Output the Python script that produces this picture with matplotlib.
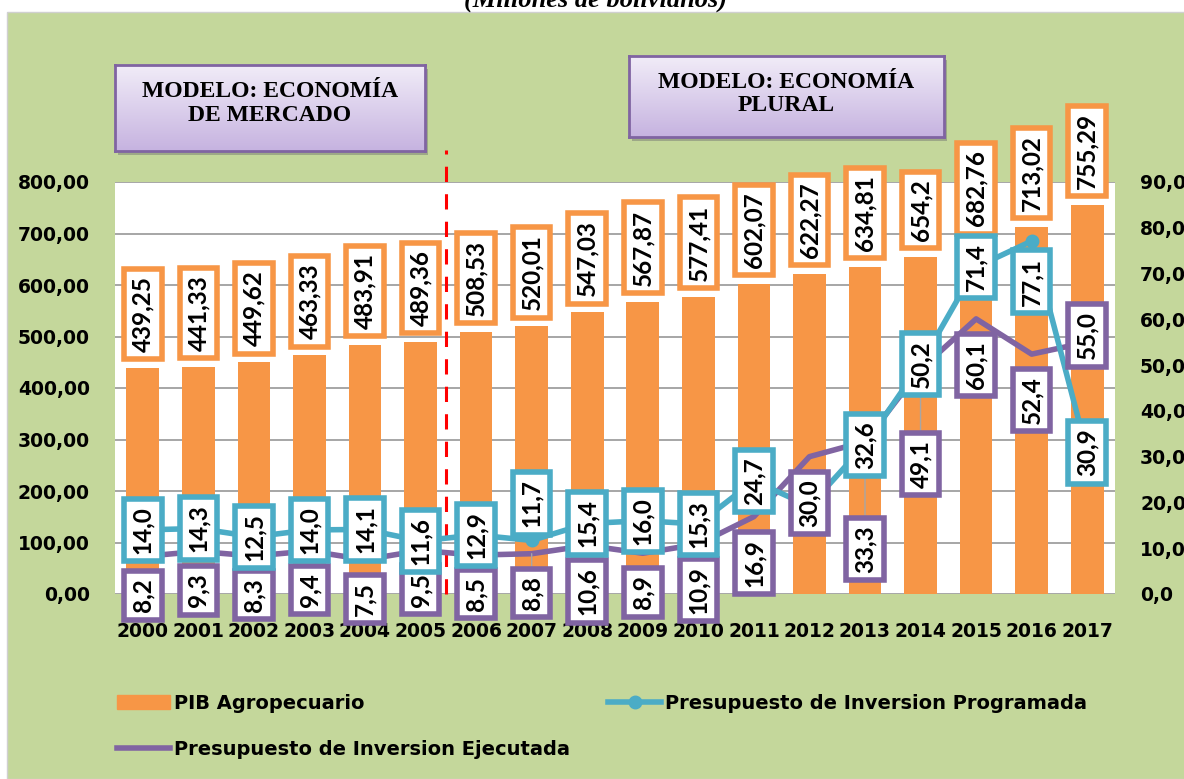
import matplotlib.pyplot as plt
import numpy as np
from matplotlib.patches import Rectangle, Patch
from matplotlib.lines import Line2D
from matplotlib.colors import LinearSegmentedColormap

plt.rcParams['font.family'] = ['DejaVu Sans']

years = [str(y) for y in range(2000, 2018)]
pib = [439.25, 441.33, 449.62, 463.33, 483.91, 489.36, 508.53, 520.01, 547.03,
       567.87, 577.41, 602.07, 622.27, 634.81, 654.2, 682.76, 713.02, 755.29]
programada = [14.0, 14.3, 12.5, 14.0, 14.1, 11.6, 12.9, 11.7, 15.4,
              16.0, 15.3, 24.7, 19.2, 32.6, 50.2, 71.4, 77.1, 30.9]
ejecutada = [8.2, 9.3, 8.3, 9.4, 7.5, 9.5, 8.5, 8.8, 10.6,
             8.9, 10.9, 16.9, 30.0, 33.3, 49.1, 60.1, 52.4, 55.0]

ORANGE = '#f79646'
BLUE = '#4bacc6'
PURPLE = '#8064a2'
GREEN = '#c4d79b'
W, H = 1184, 779

fig = plt.figure(figsize=(W / 100, H / 100), dpi=100)
fig.patch.set_facecolor('white')
fig.patches.append(Rectangle((7 / W, 0), 1, 1 - 12 / H, transform=fig.transFigure,
                             fc=GREEN, ec='#d0d0d0', lw=1, zorder=-2))

ax = fig.add_axes([115 / W, 1 - 594 / H, 1000 / W, 412 / H])
ax2 = ax.twinx()
x = np.arange(len(years))

ax.bar(x, pib, width=0.59, color=ORANGE, zorder=2)
ax.set_xlim(-0.5, len(years) - 0.5)
ax.set_ylim(0, 800)
ax.set_yticks(np.arange(0, 801, 100))
ax.set_yticklabels([f"{v:.2f}".replace('.', ',') for v in np.arange(0, 801, 100)])
ax.set_xticks(x)
ax.set_xticklabels(years)
ax.set_axisbelow(True)
ax.yaxis.grid(True, color='#a6a6a6', lw=1.4)
ax.tick_params(axis='y', length=0, pad=18, labelsize=13.5)
ax.tick_params(axis='x', length=0, pad=20, labelsize=13.5)
for lab in ax.get_xticklabels() + ax.get_yticklabels():
    lab.set_fontweight('bold')

ax2.set_ylim(0, 90)
ax2.set_yticks(np.arange(0, 91, 10))
ax2.set_yticklabels([f"{v:.1f}".replace('.', ',') for v in np.arange(0, 91, 10)])
ax2.tick_params(axis='y', length=0, pad=18, labelsize=13.5)
for lab in ax2.get_yticklabels():
    lab.set_fontweight('bold')
for a in (ax, ax2):
    for s in a.spines.values():
        s.set_visible(False)

# separation line between the two models
ax.plot([5.45, 5.45], [0, 862], color='red', lw=2.2, ls=(0, (5, 4)),
        clip_on=False, zorder=3)

ax2.plot(x, ejecutada, color=PURPLE, lw=4, zorder=2, solid_capstyle='round')
ax2.plot(x, programada, color=BLUE, lw=4, marker='o', ms=9, zorder=3)


def box_label(txt, xy, color, dy, va, src, leader=False):
    kw = {}
    if leader:
        kw['arrowprops'] = dict(arrowstyle='-', color='#a6a6a6', lw=1,
                                shrinkA=0, shrinkB=0)
    ax2.annotate(txt, xy=xy, xycoords=src, xytext=(0, dy), textcoords='offset points',
                 rotation=90, ha='center', va=va, fontsize=17.5, fontweight='bold',
                 family=['Lato', 'DejaVu Sans'],
                 bbox=dict(boxstyle='square,pad=0.3', fc='white', ec=color, lw=4),
                 zorder=6, **kw)


for i, v in enumerate(pib):
    box_label(f"{v:g}".replace('.', ','), (i, v), ORANGE, 11.5, 'bottom', ax.transData)

purple_pos = {7: (-16, 'top', True), 13: (-60, 'top', True), 14: (-51, 'top', True),
              17: (5, 'center', False)}
for i, v in enumerate(ejecutada):
    dy, va, lead = purple_pos.get(i, (-16, 'top', False))
    box_label(f"{v:.1f}".replace('.', ','), (i, v), PURPLE, dy, va, ax2.transData, lead)

blue_pos = {7: (9.5, 'bottom'), 16: (-12, 'top')}
for i, v in enumerate(programada):
    if i == 12:
        continue
    dy, va = blue_pos.get(i, (0, 'center'))
    box_label(f"{v:.1f}".replace('.', ','), (i, v), BLUE, dy, va, ax2.transData)

# model boxes
cmap = LinearSegmentedColormap.from_list('lav', ['#f1ecf8', '#c6b3e0'])
grad = np.linspace(0, 1, 100).reshape(-1, 1)
for px, txt, ty in [((115, 65, 425, 151), "MODELO: ECONOMÍA\nDE MERCADO", 0.552),
                    ((629, 56, 944, 137), "MODELO: ECONOMÍA\nPLURAL", 0.531)]:
    x0, y0, x1, y1 = px
    rect = [x0 / W, 1 - y1 / H, (x1 - x0) / W, (y1 - y0) / H]
    fig.patches.append(Rectangle((rect[0] + 3 / W, rect[1] - 4 / H), rect[2], rect[3],
                                 transform=fig.transFigure, fc='#6f6f6f', alpha=0.45,
                                 lw=0, zorder=-1))
    bax = fig.add_axes(rect)
    bax.imshow(grad, aspect='auto', cmap=cmap, extent=[0, 1, 0, 1], origin='upper')
    bax.set_xticks([])
    bax.set_yticks([])
    for s in bax.spines.values():
        s.set_color(PURPLE)
        s.set_linewidth(2)
    bax.text(0.5, ty, txt, ha='center', va='center', family='Liberation Serif',
             fontweight='bold', fontsize=17, linespacing=1.15, transform=bax.transAxes)

fig.text(596 / W, 1 - 7 / H, '(Millones de bolivianos)', ha='center', va='baseline',
         family='Liberation Serif', style='italic', fontweight='bold', fontsize=19)

handles = [Patch(color=ORANGE, label='PIB Agropecuario'),
           Line2D([], [], color=PURPLE, lw=4, label='Presupuesto de Inversion Ejecutada'),
           Line2D([], [], color=BLUE, lw=4, marker='o', ms=9,
                  label='Presupuesto de Inversion Programada')]
fig.legend(handles=handles, loc='upper left', bbox_to_anchor=(117 / W, 1 - 694 / H),
           ncol=2, frameon=False, borderpad=0, borderaxespad=0, handlelength=2.73,
           handletextpad=0.2, columnspacing=1.96, labelspacing=1.4,
           prop={'weight': 'bold', 'size': 14})

fig.savefig('out.png', dpi=100)
